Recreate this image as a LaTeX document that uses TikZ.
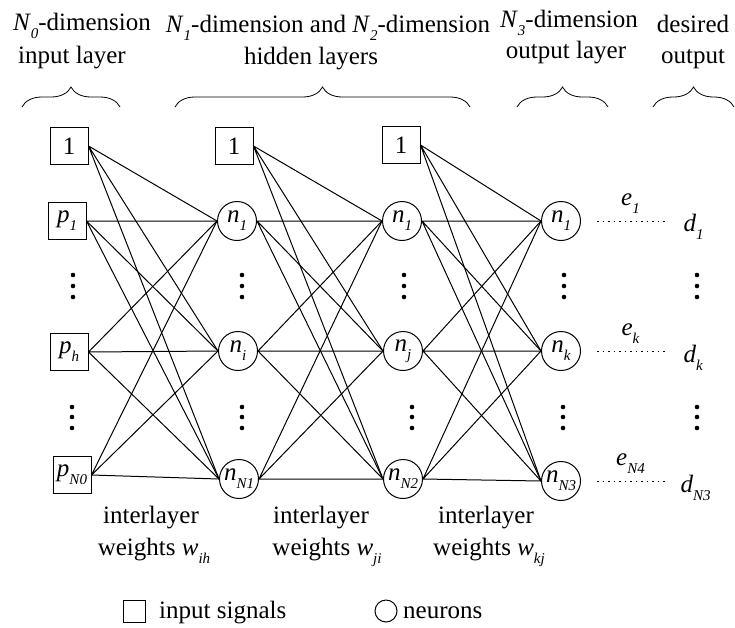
\documentclass[tikz,border=0pt]{standalone}
\usepackage{fontspec}
\setmainfont{Liberation Serif}
\usetikzlibrary{positioning, calc, decorations.pathreplacing}

% italic symbol with a lowered italic index
\newcommand{\sym}[2]{\textit{#1}\raisebox{-8pt}{\fontsize{15}{15}\selectfont\textit{#2}}}

\begin{document}
\begin{tikzpicture}[x=1pt, y=-1pt, font=\fontsize{25}{30}\selectfont]

    \tikzstyle{signal} = [draw, rectangle, minimum width=38pt, minimum height=37pt, inner sep=1pt, line width=1pt]
    \tikzstyle{neuron} = [draw, circle, minimum size=39pt, inner sep=0pt, line width=1pt]
    \tikzstyle{weight} = [line width=1pt]
    \tikzstyle{errline} = [line width=1pt, dash pattern=on 1.5pt off 4pt, shorten <=16pt, shorten >=13pt]
    \tikzstyle{group} = [decorate, decoration={brace, amplitude=20pt}, line width=0.8pt]
    \tikzstyle{lbl} = [anchor=base, inner sep=0pt]

    \useasboundingbox (0,0) rectangle (735,627);

    % Input layer
    \node[signal] (b0) at (69,146) {1};
    \node[signal] (x1) at (67,221) {\sym{p}{1}};
    \node[signal] (xh) at (69,352) {\sym{p}{h}};
    \node[signal] (xN) at (72,475) {\sym{p}{N0}};

    % Hidden layer 1
    \node[signal] (b1) at (234,146) {1};
    \node[neuron] (h1) at (237,221) {\sym{n}{1}};
    \node[neuron] (hi) at (238,351) {\sym{n}{i}};
    \node[neuron] (hN) at (239,479) {\sym{n}{N1}};

    % Hidden layer 2
    \node[signal] (b2) at (401,145) {1};
    \node[neuron] (g1) at (402,221) {\sym{n}{1}};
    \node[neuron] (gj) at (403,351) {\sym{n}{j}};
    \node[neuron] (gN) at (403,479) {\sym{n}{N2}};

    % Output layer
    \node[neuron] (o1) at (561,221) {\sym{n}{1}};
    \node[neuron] (ok) at (561,351) {\sym{n}{k}};
    \node[neuron] (oN) at (561,481) {\sym{n}{N3}};

    % Desired output
    \node[anchor=base west] (d1) at (680,231) {\sym{d}{1}};
    \node[anchor=base west] (dk) at (680,362) {\sym{d}{k}};
    \node[anchor=base west] (dN) at (677,492) {\sym{d}{N3}};

    % Weights input -> hidden 1
    \draw[weight] (b0.east) -- (h1.west) (b0.east) -- (hi.west) (b0.east) -- (hN.west);
    \draw[weight] (x1.east) -- (h1.west) (x1.east) -- (hi.west) (x1.east) -- (hN.west);
    \draw[weight] (xh.east) -- (h1.west) (xh.east) -- (hi.west) (xh.east) -- (hN.west);
    \draw[weight] (xN.east) -- (h1.west) (xN.east) -- (hi.west) (xN.east) -- (hN.west);

    % Weights hidden 1 -> hidden 2
    \draw[weight] (b1.east) -- (g1.west) (b1.east) -- (gj.west) (b1.east) -- (gN.west);
    \draw[weight] (h1.east) -- (g1.west) (h1.east) -- (gj.west) (h1.east) -- (gN.west);
    \draw[weight] (hi.east) -- (g1.west) (hi.east) -- (gj.west) (hi.east) -- (gN.west);
    \draw[weight] (hN.east) -- (g1.west) (hN.east) -- (gj.west) (hN.east) -- (gN.west);

    % Weights hidden 2 -> output
    \draw[weight] (b2.east) -- (o1.west) (b2.east) -- (ok.west) (b2.east) -- (oN.west);
    \draw[weight] (g1.east) -- (o1.west) (g1.east) -- (ok.west) (g1.east) -- (oN.west);
    \draw[weight] (gj.east) -- (o1.west) (gj.east) -- (ok.west) (gj.east) -- (oN.west);
    \draw[weight] (gN.east) -- (o1.west) (gN.east) -- (ok.west) (gN.east) -- (oN.west);

    % Errors
    \draw[errline] (o1.east) -- (o1.east -| d1.west) node[midway, above=6pt, inner sep=1pt] {\sym{e}{1}};
    \draw[errline] (ok.east) -- (ok.east -| dk.west) node[midway, above=6pt, inner sep=1pt] {\sym{e}{k}};
    \draw[errline] (oN.east) -- (oN.east -| d1.west) node[midway, above=6pt, inner sep=1pt] {\sym{e}{N4}};

    % Vertical dots
    \fill (73,275) circle (2.3pt) (73,286) circle (2.3pt) (73,297) circle (2.3pt);
    \fill (242,275) circle (2.3pt) (242,286) circle (2.3pt) (242,297) circle (2.3pt);
    \fill (404,275) circle (2.3pt) (404,286) circle (2.3pt) (404,297) circle (2.3pt);
    \fill (564,275) circle (2.3pt) (564,286) circle (2.3pt) (564,297) circle (2.3pt);
    \fill (697,275) circle (2.3pt) (697,286) circle (2.3pt) (697,297) circle (2.3pt);
    \fill (72,407) circle (2.3pt) (72,417) circle (2.3pt) (72,428) circle (2.3pt);
    \fill (242,407) circle (2.3pt) (242,417) circle (2.3pt) (242,428) circle (2.3pt);
    \fill (412,407) circle (2.3pt) (412,417) circle (2.3pt) (412,428) circle (2.3pt);
    \fill (563,407) circle (2.3pt) (563,417) circle (2.3pt) (563,428) circle (2.3pt);
    \fill (697,407) circle (2.3pt) (697,417) circle (2.3pt) (697,428) circle (2.3pt);

    % Layer titles
    \node[lbl] (t0a) at (82,30) {\sym{N}{0}-dimension};
    \node[lbl] (t0b) at (72,63) {input layer};
    \node[lbl] (t1a) at (328,32) {\sym{N}{1}-dimension and \sym{N}{2}-dimension};
    \node[lbl] (t1b) at (311,64) {hidden layers};
    \node[lbl] (t3a) at (569,27) {\sym{N}{3}-dimension};
    \node[lbl] (t3b) at (566,58) {output layer};
    \node[lbl] (t4a) at (693,32) {desired};
    \node[lbl] (t4b) at (693,63) {output};

    % Braces
    \draw[group] (22,107) -- (120,107);
    \draw[group] (175,107) -- (470,107);
    \draw[group] (517,107) -- (608,107);
    \draw[group] (653,107) -- (734,107);

    % Weight captions
    \node[lbl] (w1a) at (151,523) {interlayer};
    \node[lbl] (w1b) at (154,555) {weights \sym{w}{ih}};
    \node[lbl] (w2a) at (321,523) {interlayer};
    \node[lbl] (w2b) at (327,555) {weights \sym{w}{ji}};
    \node[lbl] (w3a) at (486,523) {interlayer};
    \node[lbl] (w3b) at (489,555) {weights \sym{w}{kj}};

    % Legend
    \node[signal, minimum width=22pt, minimum height=22pt, inner sep=0pt] (lsq) at (134,611) {};
    \node[anchor=base west, inner sep=0pt] (lsqt) at (159,618) {input signals};
    \node[neuron, minimum size=22pt] (lci) at (386,611) {};
    \node[anchor=base west, inner sep=0pt] (lcit) at (403,618) {neurons};
\end{tikzpicture}
\end{document}
